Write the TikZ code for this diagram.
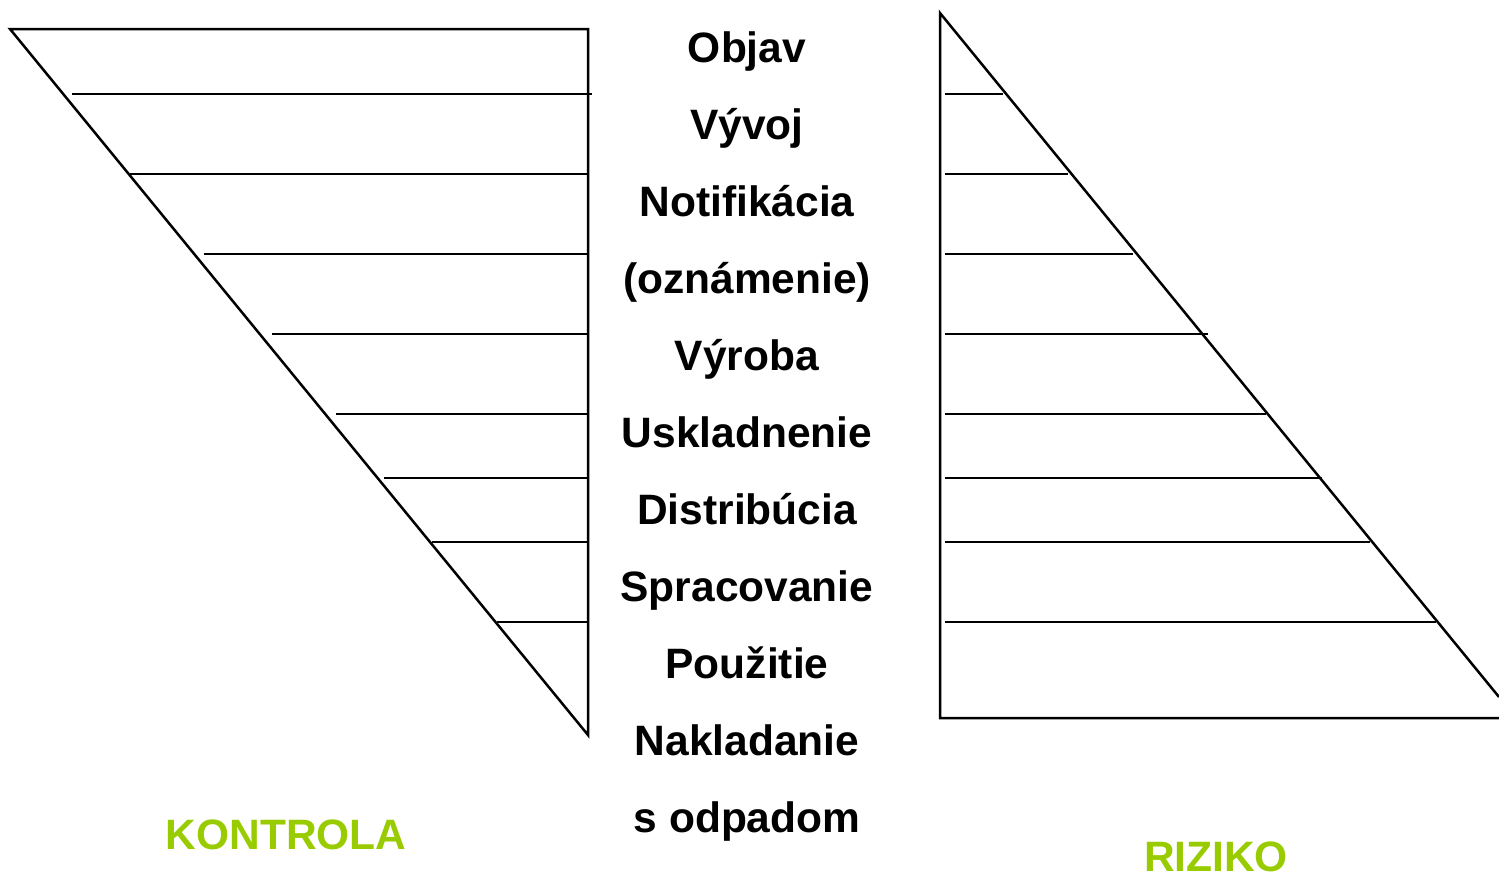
\documentclass[tikz,border=0pt]{standalone}
\usepackage{fontspec}
\setmainfont{Liberation Sans}
\definecolor{limegreen}{HTML}{99CC00}
\tikzset{
  frame/.style={line width=2.5pt},
  rung/.style={line width=2.5pt},
  stage/.style={font=\fontsize{42.5}{48}\selectfont\bfseries, anchor=base, inner sep=0pt},
  caption/.style={stage, text=limegreen}
}
\begin{document}
\begin{tikzpicture}[x=1pt,y=-1pt]
  \useasboundingbox (0,0) rectangle (1499,876);
  % control wedge (left)
  \coordinate (kA) at (10,29);
  \coordinate (kB) at (588,29);
  \coordinate (kC) at (588,735);
  \draw[frame] (kA) -- (kB) -- (kC) -- cycle;
  \draw[rung] (72,94) -- (592,94);
  \foreach \y/\x in {174/130, 254/204, 334/272, 414/336, 478/384, 542/432, 622/497}
    \draw[rung] (\x,\y) -- (588,\y);
  % risk wedge (right)
  \coordinate (rA) at (940,13);
  \coordinate (rB) at (940,718);
  \coordinate (rC) at (1499,718);
  \coordinate (rD) at (1499,697);
  \draw[frame] (rD) -- (rA) -- (rB) -- (rC);
  \foreach \y/\x in {94/1003, 174/1068, 254/1133, 334/1208, 414/1266, 478/1322, 542/1370, 622/1436}
    \draw[rung] (945,\y) -- (\x,\y);
  % stages
  \node[stage] (objav) at (747,62) {Objav};
  \node[stage] (vyvoj) at (747,139) {Vývoj};
  \node[stage] (notif) at (747,216) {Notifikácia};
  \node[stage] (ozn) at (747,293) {(oznámenie)};
  \node[stage] (vyroba) at (747,370) {Výroba};
  \node[stage] (uskl) at (747,447) {Uskladnenie};
  \node[stage] (distr) at (747,524) {Distribúcia};
  \node[stage] (sprac) at (747,601) {Spracovanie};
  \node[stage] (pouz) at (747,678) {Použitie};
  \node[stage] (nakl) at (747,755) {Nakladanie};
  \node[stage] (odpad) at (747,832) {s odpadom};
  % captions
  \node[caption] (kontrola) at (286,849) {KONTROLA};
  \node[caption] (riziko) at (1216,871) {RIZIKO};
\end{tikzpicture}
\end{document}
